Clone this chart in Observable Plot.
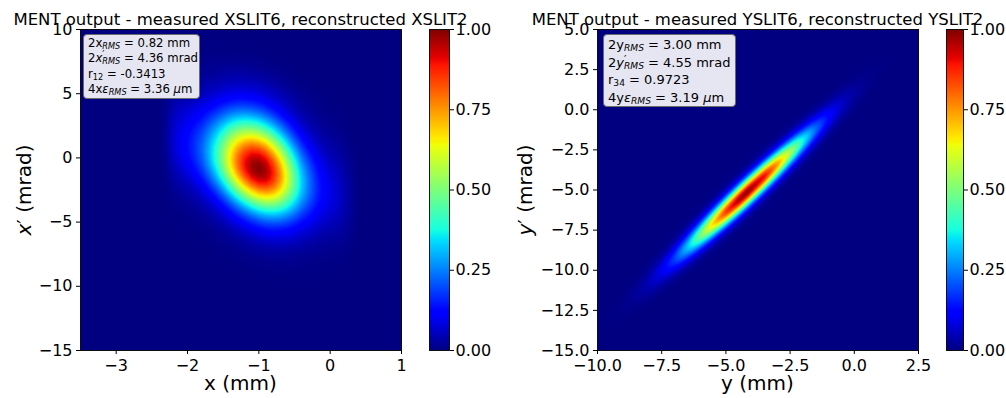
<!DOCTYPE html>
<html>
<head>
<meta charset="utf-8">
<script src="https://cdn.jsdelivr.net/npm/d3@7"></script>
<script src="https://cdn.jsdelivr.net/npm/@observablehq/plot@0.6"></script>
<style>
  html, body { margin: 0; padding: 0; background: #fff; }
  #fig { position: relative; width: 1006px; height: 398px; overflow: hidden;
         font-family: "DejaVu Sans", sans-serif; color: #000; background: #fff; }
  #fig > svg, #fig > div { position: absolute; }
  .title { font-size: 16.5px; line-height: 16px; white-space: nowrap; transform: translateX(-50%); }
  .xlabel { font-size: 20px; line-height: 20px; white-space: nowrap; transform: translateX(-50%); }
  .ylabel { font-size: 20px; line-height: 20px; white-space: nowrap; transform: translate(-50%, -50%) rotate(-90deg); }
  .box { box-sizing: border-box; background: rgb(230, 230, 242); border: 1px solid #6a6a6a;
         border-radius: 4px; white-space: nowrap; }
  .box sub { font-size: 0.7em; vertical-align: -0.22em; line-height: 0; font-style: italic; }
  .box sub.n { font-style: normal; }
  .box .ps { position: relative; }
  .box .ps .p { position: absolute; left: 0; top: -0.1em; font-size: 0.85em; line-height: 1; }
</style>
</head>
<body>
<div id="fig"></div>
<script>
// ---- axis ticks ----
const xTicks   = [-3, -2, -1, 0, 1];
const xpTicks  = [-15, -10, -5, 0, 5, 10];
const yTicks   = [-10, -7.5, -5, -2.5, 0, 2.5];
const ypTicks  = [-15, -12.5, -10, -7.5, -5, -2.5, 0, 2.5, 5];
const barTicks = [0, 0.25, 0.5, 0.75, 1];

// ---- horizontal phase space (x, x') ----
// normalised intensity on the beam ridge versus x (mm)
const xRidgePos = [-2.4, -2.3, -2.2, -2.1, -2.0, -1.9, -1.8, -1.7, -1.6, -1.5, -1.4, -1.3, -1.2, -1.1, -1.0,
                   -0.9, -0.8, -0.7, -0.6, -0.5, -0.4, -0.3, -0.2, -0.1, 0.0, 0.1, 0.2, 0.3, 0.4];
const xRidgeVal = [0, 0.02, 0.07, 0.10, 0.13, 0.17, 0.22, 0.30, 0.40, 0.52, 0.66, 0.793, 0.90, 0.975, 1.0,
                   0.969, 0.882, 0.755, 0.607, 0.46, 0.33, 0.24, 0.17, 0.12, 0.09, 0.07, 0.045, 0.02, 0];
// ridge centre line: x' (mrad) at two x (mm) positions
const xRidgeLineX  = [-2.2, 0.2];
const xRidgeLineXp = [1.33, -3.03];
// normalised intensity across the ridge versus x' offset (mrad)
const xCrossOff = [-9, -8, -7, -6, -5.5, -5, -4.5, -4, -3.5, -3, -2.5, -2, -1.5, -1, -0.5, 0,
                   0.5, 1, 1.5, 2, 2.5, 3, 3.5, 4, 4.5, 5, 5.5, 6, 7, 8, 9, 10];
const xCrossVal = [0, 0.004, 0.012, 0.035, 0.06, 0.095, 0.145, 0.21, 0.30, 0.411, 0.54, 0.674, 0.80, 0.906, 0.976, 1,
                   0.981, 0.926, 0.841, 0.735, 0.618, 0.50, 0.39, 0.295, 0.215, 0.155, 0.11, 0.075, 0.035, 0.012, 0.003, 0];

// ---- vertical phase space (y, y') ----
const yRidgePos = [-10, -9.5, -9, -8.5, -8, -7.5, -7, -6.5, -6, -5.5, -5, -4.5, -4.15,
                   -3.5, -3, -2.5, -2, -1.5, -1, -0.5, 0, 0.5, 1, 1.5];
const yRidgeVal = [0, 0.003, 0.008, 0.020, 0.047, 0.098, 0.186, 0.32, 0.494, 0.688, 0.863, 0.976, 1.0,
                   0.913, 0.756, 0.563, 0.379, 0.229, 0.125, 0.062, 0.027, 0.011, 0.004, 0];
const yRidgeLineY  = [-8.5, 0.0];
const yRidgeLineYp = [-11.49, 1.0];
const yCrossOff = [-2.5, -2, -1.75, -1.5, -1.25, -1, -0.75, -0.5, -0.25, 0, 0.25, 0.5, 0.75, 1, 1.25, 1.5, 1.75, 2, 2.5];
const yCrossVal = [0, 0.003, 0.011, 0.035, 0.098, 0.226, 0.433, 0.69, 0.911, 1, 0.911, 0.69, 0.433, 0.226, 0.098, 0.035, 0.011, 0.003, 0];

// ---- jet colour map ----
const jetStops  = [0, 0.11, 0.125, 0.34, 0.35, 0.375, 0.64, 0.65, 0.66, 0.89, 0.91, 1];
const jetColors = ["#000080", "#0000ff", "#0000ff", "#00dbff", "#00e6f7", "#15ffe2",
                   "#efff08", "#f7f500", "#ffec00", "#ff1300", "#e80000", "#800000"];
const colorScale = {type: "linear", domain: jetStops, range: jetColors, interpolate: "rgb", clamp: true};

const lin = (d, r) => d3.scaleLinear().domain(d).range(r).clamp(true);
const fig = document.getElementById("fig");

function place(node, left, top) {
  node.style.left = left + "px";
  node.style.top = top + "px";
  fig.appendChild(node);
}

// intensity map: ridge profile times cross profile about the ridge line
function phasePlot({xDomain, yDomain, xt, yt, xf, yf, ridgePos, ridgeVal, lineX, lineY, crossOff, crossVal,
                    width, marginLeft, marginRight}) {
  const along = lin(ridgePos, ridgeVal);
  const line = d3.scaleLinear().domain(lineX).range(lineY);
  const cross = lin(crossOff, crossVal);
  return Plot.plot({
    width, height: 398, marginLeft, marginRight, marginTop: 29, marginBottom: 48,
    style: {fontFamily: "DejaVu Sans", fontSize: "16px", color: "#000", background: "transparent", overflow: "visible"},
    x: {domain: xDomain},
    y: {domain: yDomain},
    color: colorScale,
    marks: [
      Plot.raster({
        x1: xDomain[0], x2: xDomain[1], y1: yDomain[0], y2: yDomain[1],
        fill: (x, y) => along(x) * cross(y - line(x)),
        pixelSize: 1
      }),
      Plot.frame({stroke: "#000", strokeWidth: 0.9}),
      Plot.axisX({ticks: xt, tickFormat: d3.format(xf), tickSize: 4, tickPadding: 5, fontSize: 16, label: null}),
      Plot.axisY({ticks: yt, tickFormat: d3.format(yf), tickSize: 4, tickPadding: 4, fontSize: 16, label: null})
    ]
  });
}

function colorBar(width, barWidth) {
  return Plot.plot({
    width, height: 398, marginLeft: 0, marginRight: width - barWidth, marginTop: 29, marginBottom: 48,
    style: {fontFamily: "DejaVu Sans", fontSize: "16px", color: "#000", background: "transparent", overflow: "visible"},
    x: {domain: [0, 1], axis: null},
    y: {domain: [0, 1]},
    color: colorScale,
    marks: [
      Plot.raster({x1: 0, x2: 1, y1: 0, y2: 1, fill: (x, y) => y, pixelSize: 1}),
      Plot.frame({stroke: "#000", strokeWidth: 0.9}),
      Plot.axisY({anchor: "right", ticks: barTicks, tickFormat: d3.format(".2f"), tickSize: 4, tickPadding: 2, fontSize: 16, label: null})
    ]
  });
}

place(phasePlot({
  xDomain: [-3.5, 1], yDomain: [-15, 10], xt: xTicks, yt: xpTicks, xf: "d", yf: "d",
  ridgePos: xRidgePos, ridgeVal: xRidgeVal, lineX: xRidgeLineX, lineY: xRidgeLineXp,
  crossOff: xCrossOff, crossVal: xCrossVal, width: 420, marginLeft: 80, marginRight: 19
}), 0, 0);
place(colorBar(70, 20), 429, 0);

place(phasePlot({
  xDomain: [-10, 2.5], yDomain: [-15, 5], xt: yTicks, yt: ypTicks, xf: ".1f", yf: ".1f",
  ridgePos: yRidgePos, ridgeVal: yRidgeVal, lineX: yRidgeLineY, lineY: yRidgeLineYp,
  crossOff: yCrossOff, crossVal: yCrossVal, width: 430, marginLeft: 97, marginRight: 12
}), 500, 0);
place(colorBar(60, 17), 946, 0);

// ---- text ----
function html(cls, left, top, content, extra) {
  const d = document.createElement("div");
  d.className = cls;
  d.innerHTML = content;
  if (extra) Object.assign(d.style, extra);
  place(d, left, top);
}

html("title", 240.5, 12, "MENT output - measured XSLIT6, reconstructed XSLIT2");
html("title", 757.5, 12, "MENT output - measured YSLIT6, reconstructed YSLIT2");
html("xlabel", 240.5, 373, "x (mm)");
html("xlabel", 757.5, 373, "y (mm)");
html("ylabel", 24, 189.5, "<i>x</i>′ (mrad)");
html("ylabel", 525, 189.5, "<i>y</i>′ (mrad)");

html("box", 83, 34,
  "<div>2x<sub>RMS</sub> = 0.82 mm</div>" +
  "<div>2<i>x</i><span class='ps'><span class='p'>′</span><sub>RMS</sub></span> = 4.36 mrad</div>" +
  "<div>r<sub class='n'>12</sub> = -0.3413</div>" +
  "<div>4x<i>ε</i><sub>RMS</sub> = 3.36 <i>μ</i>m</div>",
  {width: "117px", height: "65px", fontSize: "11.7px", lineHeight: "15.3px", padding: "1px 0 0 4px"});

html("box", 603, 34,
  "<div>2y<sub>RMS</sub> = 3.00 mm</div>" +
  "<div>2<i>y</i><span class='ps'><span class='p'>′</span><sub>RMS</sub></span> = 4.55 mrad</div>" +
  "<div>r<sub class='n'>34</sub> = 0.9723</div>" +
  "<div>4y<i>ε</i><sub>RMS</sub> = 3.19 <i>μ</i>m</div>",
  {width: "133px", height: "73px", fontSize: "13px", lineHeight: "17.6px", padding: "1px 0 0 4px"});
</script>
</body>
</html>
